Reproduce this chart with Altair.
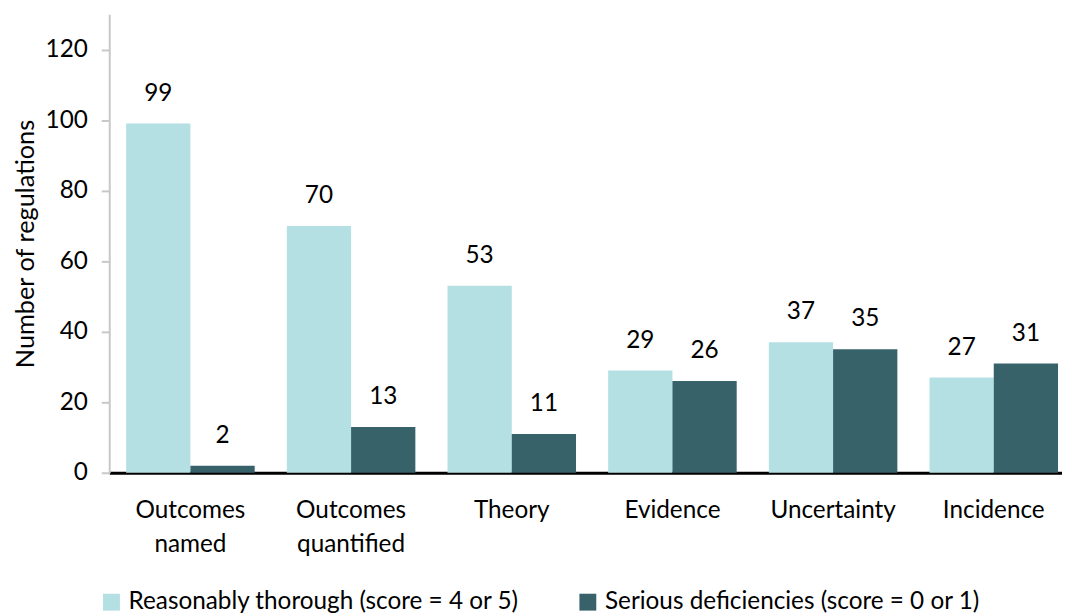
import altair as alt
import pandas as pd

categories = ["Outcomes|named", "Outcomes|quantified", "Theory", "Evidence", "Uncertainty", "Incidence"]
series = ["Reasonably thorough (score = 4 or 5)", "Serious deficiencies  (score = 0 or 1)"]
thorough = [99, 70, 53, 29, 37, 27]
deficient = [2, 13, 11, 26, 35, 31]
colors = ["#b4e0e3", "#37626a"]
y_ticks = [0, 20, 40, 60, 80, 100, 120]

rows = []
for c, a, b in zip(categories, thorough, deficient):
    rows.append({"cat": c, "series": series[0], "value": a})
    rows.append({"cat": c, "series": series[1], "value": b})
df = pd.DataFrame(rows)

FONT = "Lato"
FS = 24.5

x = alt.X("cat:N", sort=categories, title=None,
          scale=alt.Scale(paddingInner=0.2, paddingOuter=0.065, align=0.81),
          axis=alt.Axis(labelExpr="split(datum.label, '|')", labelAngle=0,
                        labelFontSize=FS, labelFont=FONT, labelColor="#000",
                        labelLineHeight=34, labelPadding=38, ticks=False,
                        domainColor="#000", domainWidth=3, labelBaseline="middle"))
xo = alt.XOffset("series:N", sort=series, scale=alt.Scale(paddingInner=0, paddingOuter=0))
y = alt.Y("value:Q", title="Number of regulations",
          scale=alt.Scale(domain=[0, 130], nice=False),
          axis=alt.Axis(values=y_ticks, grid=False, labelFontSize=FS, labelFont=FONT,
                        labelColor="#000", titleFont=FONT, titleFontSize=25.5,
                        titleFontWeight="normal", titleColor="#000",
                        domainColor="#c8c8c8", domainWidth=2, tickColor="#c8c8c8",
                        tickWidth=2, tickSize=8, labelPadding=14, titlePadding=7))

bars = alt.Chart(df).mark_bar().encode(
    x=x, xOffset=xo, y=y,
    color=alt.Color("series:N", sort=series,
                    scale=alt.Scale(domain=series, range=colors),
                    legend=alt.Legend(title=None, orient="none", direction="horizontal",
                                      legendX=-10, legendY=580, symbolType="square",
                                      symbolSize=289, symbolStrokeWidth=0, labelFont=FONT,
                                      labelFontSize=FS, labelColor="#000", labelLimit=700,
                                      columnPadding=56, symbolOffset=0, labelOffset=5))
)
text = alt.Chart(df).mark_text(dy=-30, baseline="middle", fontSize=FS, font=FONT, color="#000").encode(
    x=x, xOffset=xo, y=y, text="value:Q"
)

chart = (bars + text).properties(
    width=960, height=462,
    padding={"left": 102, "top": 4, "right": 0, "bottom": 140},
    autosize=alt.AutoSizeParams(type="none"),
).configure_view(stroke=None)

chart.save("out.html", embed_options={"renderer": "svg", "actions": False})
